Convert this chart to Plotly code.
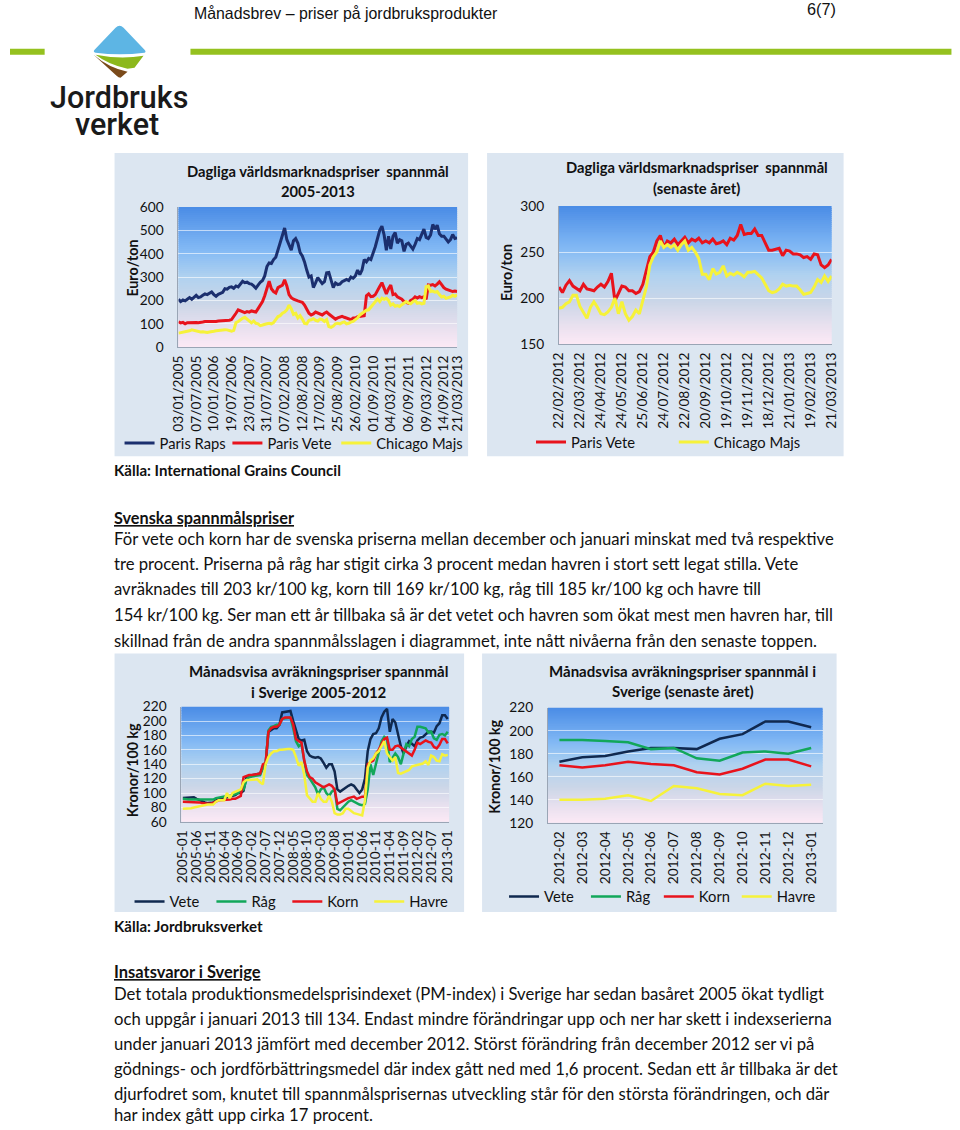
import plotly.graph_objects as go

# ---------- DATA ----------
daily_long_ticks = ["03/01/2005","07/07/2005","10/01/2006","19/07/2006","23/01/2007","31/07/2007","07/02/2008","12/08/2008","17/02/2009","25/08/2009","26/02/2010","01/09/2010","04/03/2011","06/09/2011","09/03/2012","14/09/2012","21/03/2013"]
paris_raps = [205,195,202,198,205,212,205,215,222,212,215,222,228,225,232,236,225,218,226,230,235,250,248,256,258,252,262,258,270,282,276,278,272,270,262,252,265,278,285,305,345,360,358,375,385,415,450,470,510,460,440,415,455,465,445,405,390,365,330,300,305,255,275,298,285,272,280,318,320,290,255,275,268,270,280,285,290,285,300,295,305,330,310,330,375,365,380,375,400,430,465,500,518,480,415,475,420,475,490,445,460,455,410,440,445,430,420,440,465,460,480,505,470,465,480,525,505,522,485,475,475,460,450,460,482,465,468]
paris_vete_long = [108,104,106,100,105,106,104,106,106,105,108,108,110,110,108,110,111,110,112,112,113,114,112,115,118,130,145,160,155,150,148,152,150,155,152,150,165,180,195,220,255,282,250,238,232,255,260,265,288,262,225,212,205,200,198,195,192,180,165,145,138,142,150,145,140,138,145,150,142,135,125,120,125,130,132,128,125,120,118,125,125,130,132,135,135,220,228,216,218,225,240,260,276,250,228,250,266,225,228,215,209,205,195,190,188,200,205,215,210,216,212,216,205,266,265,268,262,270,280,268,255,248,245,240,238,240,238]
chicago_majs_long = [60,62,62,65,66,70,74,72,70,66,65,66,64,63,65,68,68,70,72,72,74,75,74,72,68,72,105,110,118,124,128,120,108,104,112,102,100,92,95,96,100,102,100,105,120,131,135,145,150,160,180,165,140,145,125,135,120,102,100,115,117,122,115,112,120,118,110,118,88,85,90,100,102,100,105,108,100,102,108,110,118,125,138,145,150,158,160,172,185,198,206,195,210,205,209,200,180,185,175,178,174,182,188,195,190,186,194,200,188,190,185,188,259,262,238,240,235,238,225,215,218,209,212,215,222,218,224]

daily_short_ticks = ["22/02/2012","22/03/2012","24/04/2012","24/05/2012","25/06/2012","24/07/2012","22/08/2012","20/09/2012","19/10/2012","19/11/2012","18/12/2012","21/01/2013","19/02/2013","21/03/2013"]
paris_vete_short = [212,206,214,219,213,210,208,215,210,209,208,212,215,212,218,227,197,205,213,212,208,208,205,207,215,230,245,250,262,268,255,262,260,264,258,262,266,260,264,262,265,260,262,260,264,259,260,262,258,265,263,268,280,269,270,270,275,268,268,260,252,252,253,254,246,252,251,248,248,247,244,245,242,248,247,236,233,236,242]
chicago_majs_short = [189,190,194,196,203,203,191,184,178,190,196,190,183,182,185,190,200,183,196,183,176,180,187,183,198,212,236,245,250,262,255,258,255,258,252,258,262,252,255,250,243,226,226,220,232,226,228,235,224,227,225,228,226,223,228,228,229,226,222,215,208,206,207,210,215,213,214,213,213,209,204,205,206,212,220,217,224,218,224]

months_long_ticks = ["2005-01","2005-06","2005-11","2006-04","2006-09","2007-02","2007-07","2007-12","2008-05","2008-10","2009-03","2009-08","2010-01","2010-06","2010-11","2011-04","2011-09","2012-02","2012-07","2013-01"]
month_tick_positions = [0,5,10,15,20,25,30,35,40,45,50,55,60,65,70,75,80,85,90,96]
vete_long = [93,93,94,94,94,92,90,88,87,86,86,87,90,92,93,93,94,95,96,97,100,100,103,122,124,125,125,126,127,135,140,185,188,190,190,195,212,213,214,214,200,188,175,173,174,158,152,150,149,150,148,142,135,140,140,130,105,102,105,108,110,112,110,105,100,105,120,158,175,182,183,190,205,213,217,185,203,198,180,165,155,165,172,168,165,173,177,178,182,185,185,184,193,197,208,208,203]
rag_long = [92,91,91,91,91,91,90,90,90,90,90,91,93,94,94,95,96,96,97,98,100,103,105,118,122,123,124,125,125,135,140,187,192,193,195,195,203,204,205,205,190,172,165,168,145,125,120,113,108,98,105,108,100,96,102,105,78,76,80,85,88,90,88,85,84,83,85,105,140,125,140,155,172,178,175,143,150,155,150,140,155,168,165,175,178,192,192,191,190,184,185,176,174,181,182,180,185]
korn_long = [88,88,88,88,88,88,87,86,85,85,85,86,88,90,90,90,91,91,92,92,94,96,122,124,125,125,126,126,127,140,142,185,190,192,192,195,203,205,205,205,195,175,172,170,145,130,122,120,115,113,110,108,110,112,110,105,85,87,90,92,93,94,95,92,94,95,95,140,143,145,155,160,168,175,177,160,160,165,166,163,160,158,155,152,160,170,168,170,173,171,170,164,162,167,175,175,169]
havre_long = [78,78,79,79,80,81,82,82,83,84,84,84,88,90,90,90,100,93,100,102,103,105,115,118,118,118,118,119,115,112,140,150,155,158,158,160,160,161,161,161,160,150,138,143,125,97,92,88,88,100,92,88,88,96,88,72,70,70,72,78,78,75,72,71,70,69,90,135,145,148,155,158,165,172,155,150,145,150,128,127,129,130,132,137,138,140,140,141,144,139,152,150,145,144,154,152,153]

months_short = ["2012-02","2012-03","2012-04","2012-05","2012-06","2012-07","2012-08","2012-09","2012-10","2012-11","2012-12","2013-01"]
vete_short = [173,177,178,182,185,185,184,193,197,208,208,203]
rag_short = [192,192,191,190,184,185,176,174,181,182,180,185]
korn_short = [170,168,170,173,171,170,164,162,167,175,175,169]
havre_short = [140,140,141,144,139,152,150,145,144,154,152,153]

para1 = ["För vete och korn har de svenska priserna mellan december och januari minskat med två respektive",
         "tre procent. Priserna på råg har stigit cirka 3 procent medan havren i stort sett legat stilla. Vete",
         "avräknades till 203 kr/100 kg, korn till 169 kr/100 kg, råg till 185 kr/100 kg och havre till",
         "154 kr/100 kg. Ser man ett år tillbaka så är det vetet och havren som ökat mest men havren har, till",
         "skillnad från de andra spannmålsslagen i diagrammet, inte nått nivåerna från den senaste toppen."]
para2 = ["Det totala produktionsmedelsprisindexet (PM-index) i Sverige har sedan basåret 2005 ökat tydligt",
         "och uppgår i januari 2013 till 134. Endast mindre förändringar upp och ner har skett i indexserierna",
         "under januari 2013 jämfört med december 2012. Störst förändring från december 2012 ser vi på",
         "gödnings- och jordförbättringsmedel där index gått ned med 1,6 procent. Sedan ett år tillbaka är det",
         "djurfodret som, knutet till spannmålsprisernas utveckling står för den största förändringen, och där",
         "har index gått upp cirka 17 procent."]

# ---------- STYLE ----------
W, H = 960, 1130
FIT = 0.9836        # the photographed page comes out scaled by this much
FS = 1 / FIT
BODY = "Lato"
DARK, NAVY, GREEN, RED, YELLOW = "#10294f", "#1b2f6e", "#12a75a", "#e8131c", "#f6f23a"
PANEL = "#dce6f1"
def X(p): return (p - 9.3) / FIT / W
def Y(p): return 1 - (p - 9.3) / FIT / H

stops = [(0, (74,140,230)), (.3, (130,185,245)), (.5, (176,210,240)), (.7, (205,215,232)), (.88, (236,226,240)), (1, (252,234,246))]
def grad(t):
    for (a, ca), (b, cb) in zip(stops, stops[1:]):
        if t <= b:
            f = (t - a) / (b - a)
            return "rgb(%d,%d,%d)" % tuple(ca[i] + f * (cb[i] - ca[i]) for i in range(3))
    return "rgb(252,234,246)"

charts = [
 dict(sfx="", panel=(114,153,468,456), plot=(178,207,457,347), yr=(0,600), dy=100, ylab="Euro/ton", ylabpos=(132,268),
      title=[("Dagliga världsmarknadspriser  spannmål",318,171),("2005-2013",318,191)], tfs=14.5,
      leg=443, lw=3),
 dict(sfx="2", panel=(487,153,844,456), plot=(559,206,832,344), yr=(150,300), dy=50, ylab="Euro/ton", ylabpos=(506,273),
      title=[("Dagliga världsmarknadspriser  spannmål",697,167),("(senaste året)",697,188)], tfs=14.5,
      leg=442, lw=3),
 dict(sfx="3", panel=(114,653,464,911), plot=(181,706,449,821), yr=(60,220), dy=20, ylab="Kronor/100 kg", ylabpos=(132,770),
      title=[("Månadsvisa avräkningspriser spannmål",319,670),("i Sverige 2005-2012",319,691)], tfs=14.8,
      leg=901, lw=2.5),
 dict(sfx="4", panel=(482,653,837,911), plot=(548,707,823,822), yr=(120,220), dy=20, ylab="Kronor/100 kg", ylabpos=(495,766),
      title=[("Månadsvisa avräkningspriser spannmål i",683,670),("Sverige (senaste året)",683,690)], tfs=14.8,
      leg=896, lw=2.5),
]

fig = go.Figure()
shapes, ann, layout = [], [], {}
legend_count = [0]
def add(c, x, y, name, color, legend_x):
    s = c["sfx"]
    legend_count[0] += 1
    key = "legend" if legend_count[0] == 1 else "legend%d" % legend_count[0]
    fig.add_trace(go.Scatter(x=x, y=y, mode="lines", name=name, line=dict(color=color, width=c["lw"]),
                             xaxis="x"+s, yaxis="y"+s, legend=key, hoverinfo="skip"))
    layout[key] = dict(x=X(legend_x - 6), y=Y(c["leg"]), xanchor="left", yanchor="middle", itemwidth=30,
                       bgcolor="rgba(0,0,0,0)", borderwidth=0, itemclick=False, itemdoubleclick=False,
                       font=dict(size=14.5*FS, family=BODY, color="#111111"))

idx1 = list(range(len(paris_raps)))
idx2 = list(range(len(paris_vete_short)))
idx3 = list(range(len(vete_long)))
add(charts[0], idx1, paris_raps, "Paris Raps", NAVY, 125)
add(charts[0], idx1, paris_vete_long, "Paris Vete", RED, 233)
add(charts[0], idx1, chicago_majs_long, "Chicago Majs", YELLOW, 342)
add(charts[1], idx2, paris_vete_short, "Paris Vete", RED, 537)
add(charts[1], idx2, chicago_majs_short, "Chicago Majs", YELLOW, 680)
add(charts[2], idx3, vete_long, "Vete", DARK, 135)
add(charts[2], idx3, rag_long, "Råg", GREEN, 217)
add(charts[2], idx3, korn_long, "Korn", RED, 293)
add(charts[2], idx3, havre_long, "Havre", YELLOW, 375)
add(charts[3], months_short, vete_short, "Vete", DARK, 510)
add(charts[3], months_short, rag_short, "Råg", GREEN, 592)
add(charts[3], months_short, korn_short, "Korn", RED, 665)
add(charts[3], months_short, havre_short, "Havre", YELLOW, 743)

def text(t, x, y, size=16.4, bold=False, color="#111111", family=BODY, anchor="left", angle=0, weight=None):
    f = dict(size=size*FS, color=color, family=family)
    if weight: f["weight"] = weight
    if anchor == "left":
        x -= 2.5   # annotation box padding
    ann.append(dict(text=("<b>%s</b>" % t) if bold else t, x=X(x), y=Y(y), xref="paper", yref="paper",
                    xanchor=anchor, yanchor="middle", showarrow=False, textangle=angle, font=f))

xcfg = [
 dict(tickmode="array", tickvals=[i*8 for i in range(16)] + [idx1[-1]], ticktext=daily_long_ticks, range=[0, idx1[-1]]),
 dict(tickmode="array", tickvals=[i*6 for i in range(14)], ticktext=daily_short_ticks, range=[0, idx2[-1]]),
 dict(tickmode="array", tickvals=month_tick_positions, ticktext=months_long_ticks, range=[-.5, idx3[-1]+.5]),
 dict(type="category", tickmode="array", tickvals=months_short, ticktext=months_short, range=[-.5, 11.5]),
]
for c, xc in zip(charts, xcfg):
    s = c["sfx"]; l, t, r, b = c["plot"]; pl, pt, pr, pb = c["panel"]
    shapes.append(dict(type="rect", xref="paper", yref="paper", x0=X(pl), x1=X(pr), y0=Y(pb), y1=Y(pt),
                       fillcolor=PANEL, line_width=0, layer="below"))
    n = 70
    for i in range(n):
        shapes.append(dict(type="rect", xref="x%s domain" % s, yref="y%s domain" % s, x0=0, x1=1,
                           y0=1-(i+1.6)/n if i < n-1 else 0, y1=1-i/n, fillcolor=grad((i+.5)/n), line_width=0, layer="below"))
    layout["xaxis"+s] = dict(domain=[X(l), X(r)], anchor="y"+s, tickangle=-90, showgrid=False, zeroline=False,
                             showline=True, linecolor="#9aa5b5", linewidth=1, ticks="outside", ticklen=2,
                             tickcolor="rgba(0,0,0,0)", fixedrange=True,
                             tickfont=dict(size=13.5*FS, family=BODY, color="#111111"), **xc)
    layout["yaxis"+s] = dict(domain=[Y(b), Y(t)], anchor="x"+s, range=list(c["yr"]), dtick=c["dy"], tick0=c["yr"][0],
                             showgrid=True, gridcolor="rgba(255,255,255,.6)", gridwidth=1, zeroline=False,
                             showline=True, linecolor="#9aa5b5", linewidth=1, ticks="outside", ticklen=11,
                             tickcolor="rgba(0,0,0,0)", fixedrange=True,
                             tickfont=dict(size=13.5*FS, family=BODY, color="#111111"))
    for line, tx, ty in c["title"]:
        text(line, tx, ty, size=c["tfs"], bold=True, anchor="center")
    text(c["ylab"], c["ylabpos"][0], c["ylabpos"][1], size=14, bold=True, anchor="center", angle=-90)

# page furniture: rules and logo
for x0, x1 in [(9.3,44),(190,952)]:
    shapes.append(dict(type="rect", xref="paper", yref="paper", x0=X(x0), x1=X(x1), y0=Y(55), y1=Y(49),
                       fillcolor="#95c11f", line_width=0))
def path(points):
    out = ""
    for cmd, *xy in points:
        out += cmd + " ".join("%.5f %.5f" % (X(xy[i]), Y(xy[i+1])) for i in range(0, len(xy), 2)) + " "
    return out + "Z"
shapes.append(dict(type="path", xref="paper", yref="paper", line_width=0, fillcolor="#5db5e4",
                   path=path([("M",119,26),("Q",121,26,123,28),("L",144,50),("Q",146,52,144,53),("Q",119,56,95,53),("Q",92,52,94,50),("L",115,28),("Q",117,26,119,26)])))
shapes.append(dict(type="path", xref="paper", yref="paper", line_width=0, fillcolor="#8cb81c",
                   path=path([("M",95,55),("Q",120,60,143,56),("L",134,68),("L",127,69),("Q",108,65,95,55)])))
shapes.append(dict(type="path", xref="paper", yref="paper", line_width=0, fillcolor="#7a4a1a",
                   path=path([("M",93,55),("Q",108,68,127,72),("L",120,78),("Q",118,78,116,76),("L",93,55)])))
text("Jordbruks", 50, 98, size=30, color="#1a1a1a", family="Roboto", weight=500)
text("verket", 75, 125, size=30, color="#1a1a1a", family="Roboto", weight=500)

text("Månadsbrev – priser på jordbruksprodukter", 194, 14, size=15.6, family="Liberation Sans")
text("6(7)", 808, 9.5, size=16, family="Liberation Sans")
text("Källa: International Grains Council", 114, 470, size=14.8, bold=True)
text("<u><b>Svenska spannmålspriser</b></u>", 114, 517, size=16)
for t_, y_ in zip(para1, [539,564,589,614,640]):
    text(t_, 114, y_)
text("Källa: Jordbruksverket", 114, 925, size=14.8, bold=True)
text("<u><b>Insatsvaror i Sverige</b></u>", 114, 971, size=16.2)
for t_, y_ in zip(para2, [993,1018,1043,1068,1093,1114]):
    text(t_, 114, y_)

fig.update_layout(width=W, height=H, margin=dict(l=0, r=0, t=0, b=0), autosize=False,
                  paper_bgcolor="white", plot_bgcolor="rgba(0,0,0,0)", shapes=shapes, annotations=ann,
                  showlegend=True, **layout)
fig.write_html("out.html", config=dict(displayModeBar=False), post_script="document.body.style.margin='0';")
